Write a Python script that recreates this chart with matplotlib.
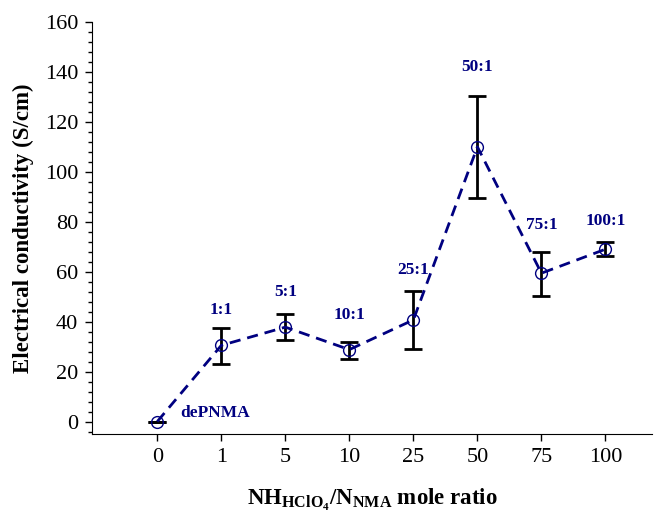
import matplotlib.pyplot as plt
from matplotlib.ticker import MultipleLocator

plt.rcParams['font.family'] = ['Liberation Serif', 'DejaVu Serif']
plt.rcParams['mathtext.fontset'] = 'custom'
plt.rcParams['mathtext.rm'] = 'Liberation Serif'
plt.rcParams['mathtext.bf'] = 'Liberation Serif:bold'

# data
ratios = ['0', '1', '5', '10', '25', '50', '75', '100']
conductivity = [0, 30.5, 37.8, 28.8, 40.7, 110, 59.4, 69]
err_low = [0, 7.3, 5.3, 3.6, 11.8, 20.5, 9.2, 2.7]
err_high = [0, 7.0, 5.3, 3.0, 11.7, 20.5, 8.4, 2.7]
point_labels = ['dePNMA', '1:1', '5:1', '10:1', '25:1', '50:1', '75:1', '100:1']

# label placement (layout only)
label_pos = [(0.36, 3.6), (1, 44.5), (2, 51.8), (3, 42.5), (4, 60.5), (5, 142), (6, 78.6), (7, 80.2)]

navy = '#000080'
x = list(range(len(ratios)))

fig = plt.figure(figsize=(6.56, 5.17), dpi=100)
ax = fig.add_axes([0.1402, 0.1605, 0.854, 0.797])

ax.errorbar(x, conductivity, yerr=[err_low, err_high], fmt='none',
            ecolor='black', elinewidth=2, capsize=6.5, capthick=2, zorder=2)
ax.plot(x, conductivity, linestyle=(0, (4, 2.5)), color=navy, linewidth=2,
        marker='o', markersize=8.5, markerfacecolor='none',
        markeredgecolor=navy, markeredgewidth=1, zorder=3)

for i, (lab, (lx, ly)) in enumerate(zip(point_labels, label_pos)):
    ax.text(lx, ly, lab, color=navy, fontsize=12.5, fontweight='bold',
            ha='left' if i == 0 else 'center', va='center')

ax.set_xlim(-1.02, 7.73)
ax.set_ylim(-5, 160)
ax.set_xticks(x)
ax.set_xticklabels(ratios)
ax.yaxis.set_major_locator(MultipleLocator(20))
ax.yaxis.set_minor_locator(MultipleLocator(4))

ax.spines['top'].set_visible(False)
ax.spines['right'].set_visible(False)
ax.tick_params(axis='both', which='major', direction='out', length=5,
               labelsize=16, width=1, pad=5)
ax.tick_params(axis='y', which='minor', direction='out', length=3, width=1)

ax.set_ylabel('Electrical conductivity (S/cm)', fontsize=16.5, fontweight='bold', labelpad=8)
ax.set_xlabel(r'NH$_{\mathbf{HClO_4}}$/N$_{\mathbf{NMA}}$ mole ratio',
              fontsize=16.5, fontweight='bold', labelpad=14)

fig.savefig('out.png', dpi=100)
